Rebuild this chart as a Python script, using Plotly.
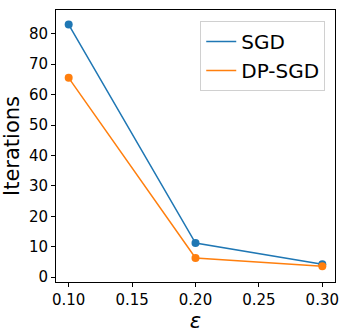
import plotly.graph_objects as go

eps = [0.1, 0.2, 0.3]
sgd = [83.0, 11.2, 4.2]
dp_sgd = [65.5, 6.3, 3.6]
x_ticks = [0.10, 0.15, 0.20, 0.25, 0.30]
y_ticks = [0, 10, 20, 30, 40, 50, 60, 70, 80]

blue = "#1f77b4"
orange = "#ff7f0e"

fig = go.Figure()
for name, vals, col in [("SGD", sgd, blue), ("DP-SGD", dp_sgd, orange)]:
    fig.add_trace(go.Scatter(x=eps, y=vals, mode="lines", name=name,
                             line=dict(color=col, width=1.5)))
    fig.add_trace(go.Scatter(x=eps, y=vals, mode="markers", showlegend=False,
                             marker=dict(color=col, size=8)))

axis = dict(showline=True, linecolor="black", linewidth=1, mirror=True,
            ticks="outside", ticklen=4, tickcolor="black", showgrid=False,
            zeroline=False, automargin=False,
            tickfont=dict(size=15, color="black"))

fig.update_xaxes(range=[0.09, 0.31], tickvals=x_ticks,
                 ticktext=[f"{v:.2f}" for v in x_ticks],
                 title=dict(text="<i>ε</i>", font=dict(size=21, color="black"), standoff=0),
                 **axis)
fig.update_yaxes(range=[-1.6, 87.8], tickvals=y_ticks,
                 title=dict(text="Iterations", font=dict(size=21, color="black"), standoff=8),
                 **axis)

fig.update_layout(
    width=346, height=334,
    margin=dict(l=56, r=11, t=10, b=52),
    plot_bgcolor="white", paper_bgcolor="white",
    font=dict(family="DejaVu Sans", color="black"),
    legend=dict(x=0.965, y=0.96, xanchor="right", yanchor="top",
                font=dict(size=20), bordercolor="#d0d0d0", borderwidth=1,
                bgcolor="rgba(255,255,255,0.8)", tracegroupgap=0),
)

# page has a default body margin, drop it so the figure fills the window
fig.write_html("out.html", config={"displayModeBar": False},
               post_script="document.body.style.margin='0';")
